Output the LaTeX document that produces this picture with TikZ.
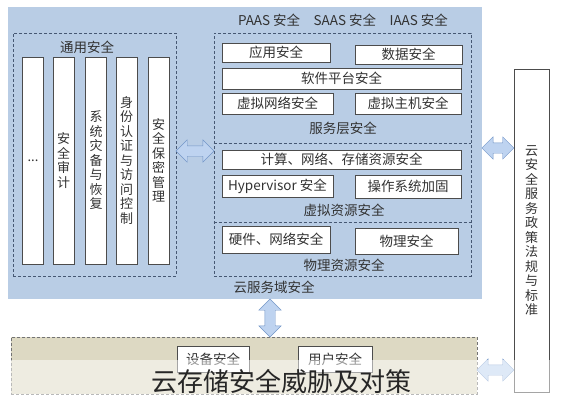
\documentclass[tikz,border=0pt]{standalone}
\usepackage{fontspec}
\usetikzlibrary{calc}
\usetikzlibrary{shapes.arrows, positioning}
\newfontfamily\cjk{Noto Sans CJK SC}
\definecolor{regionblue}{RGB}{185,205,229}
\definecolor{zoneline}{RGB}{70,88,115}
\definecolor{basetan}{RGB}{221,217,195}
\definecolor{arrowfill}{RGB}{190,211,240}
\definecolor{arrowline}{RGB}{115,150,200}
\definecolor{txt}{RGB}{50,50,50}
\tikzset{
    region/.style={rectangle, fill=regionblue, inner sep=0pt},
    zone/.style={rectangle, draw=zoneline, densely dashed, thick, inner sep=0pt},
    item/.style={rectangle, draw=black!70, fill=white, line width=0.8pt, inner sep=0pt, text=txt},
    strip/.style={item, minimum width=21, minimum height=207, align=center, font=\cjk\fontsize{13}{14.5}\selectfont},
    layer/.style={text=txt, font=\cjk\fontsize{13.5}{15}\selectfont},
    link/.style={double arrow, draw=arrowline, fill=arrowfill, inner sep=5pt, minimum width=22, double arrow head extend=6pt}
}

\begin{document}
\begin{tikzpicture}[x=1pt, y=-1pt, font=\cjk\fontsize{13.5}{15}\selectfont]
    \useasboundingbox (0,0) rectangle (561,400);
    % 云服务域
    \node[region, minimum width=474, minimum height=292] (main) at (245,153) {};
    \node[layer] (cloudtitle) at (343,20) {PAAS 安全\quad SAAS 安全\quad IAAS 安全};
    \node[zone, minimum width=163, minimum height=243] (gen) at (94.5,154.5) {};
    \node[zone, minimum width=257, minimum height=243] (svc) at (342.5,154.5) {};
    \node[layer] (gentitle) at (87,47) {通用安全};
    % 通用安全竖条
    \foreach \x/\t [count=\i] in {33/{...}, 63.5/{安\\全\\审\\计}, 96/{系\\统\\灾\\备\\与\\恢\\复},
        126.5/{身\\份\\认\\证\\与\\访\\问\\控\\制}, 158.5/{安\\全\\保\\密\\管\\理}} {
        \node[strip] (S\i) at (\x,160.5) {\t};
    }
    % 服务层
    \node[item, minimum width=108, minimum height=19] (app) at (276,52.5) {应用安全};
    \node[item, minimum width=107, minimum height=19] (data) at (408.5,54.5) {数据安全};
    \node[item, minimum width=239, minimum height=21] (soft) at (341.5,78.5) {软件平台安全};
    \node[item, minimum width=111, minimum height=21] (vnet) at (277.5,103.5) {虚拟网络安全};
    \node[item, minimum width=106, minimum height=21] (vhost) at (408,103.5) {虚拟主机安全};
    \node[layer] (svctitle) at (343,128) {服务层安全};
    \draw[zoneline, densely dashed, thick] (svc.west |- 0,143) -- (svc.east |- 0,143);
    % 虚拟资源
    \node[item, minimum width=239, minimum height=19] (res) at (341.5,159.5) {计算、网络、存储资源安全};
    \node[item, minimum width=111, minimum height=22] (hyp) at (277.5,186) {Hypervisor 安全};
    \node[item, minimum width=106, minimum height=23] (os) at (408,186.5) {操作系统加固};
    \node[layer] (virttitle) at (344,210) {虚拟资源安全};
    \draw[zoneline, densely dashed, thick] (svc.west |- 0,222) -- (svc.east |- 0,222);
    % 物理资源
    \node[item, minimum width=108, minimum height=27] (hw) at (276,239.5) {硬件、网络安全};
    \node[item, minimum width=103, minimum height=26] (phy) at (406.5,241) {物理安全};
    \node[layer] (phytitle) at (344,265) {物理资源安全};
    \node[layer] (domtitle) at (274,287) {云服务域安全};
    % 政策法规
    \node[item, minimum width=35, minimum height=323, align=center, font=\cjk\fontsize{13}{14.5}\selectfont] (policy) at (531.5,230.5)
        {云\\安\\全\\服\\务\\政\\策\\法\\规\\与\\标\\准};
    % 底部
    \node[rectangle, draw=black!55, densely dashed, fill=basetan, inner sep=0pt, minimum width=466, minimum height=57] (base) at (244,365.5) {};
    \node[item, minimum width=72, minimum height=26] (dev) at (213,359) {设备安全};
    \node[item, minimum width=74, minimum height=26] (user) at (335,359) {用户安全};
    % 双向箭头
    \node[link, minimum height=38] (a1) at ($(gen.east |- 0,151)!0.5!(svc.west |- 0,151)$) {};
    \node[link, minimum height=32] (a2) at ($(main.east |- 0,148)!0.5!(policy.west |- 0,148)$) {};
    \node[link, minimum height=38, rotate=90] (a3) at ($(main.south -| 270,0)!0.5!(base.north -| 270,0)$) {};
    \node[link, minimum height=37] (a4) at ($(base.east |- 0,370)!0.5!(policy.west |- 0,370)$) {};
    % 标题
    \fill[white, opacity=0.5] (0,360) rectangle (561,400);
    \node[text=black!85, font=\cjk\fontsize{26}{28}\selectfont] (caption) at (281,382) {云存储安全威胁及对策};
\end{tikzpicture}
\end{document}
